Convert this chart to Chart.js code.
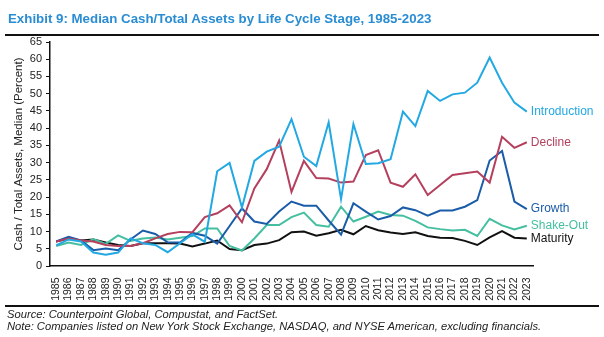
<!DOCTYPE html>
<html>
<head>
<meta charset="utf-8">
<script src="https://cdn.jsdelivr.net/npm/chart.js@4.4.0/dist/chart.umd.min.js"></script>
<style>
    body { margin: 0; background: #fff; font-family: "Liberation Sans", Arial, sans-serif; }
    #wrap { position: relative; width: 604px; height: 337px; overflow: hidden; }
    #grafico { position: absolute; left: 0; top: 0; }
    .titulo { position: absolute; left: 8px; top: 11px; font-size: 13.3px; font-weight: bold; color: #2a8dd3; line-height: 16px; white-space: nowrap; }
    .regua { position: absolute; left: 5px; width: 594px; height: 1.5px; background: #111; }
    .rodape { position: absolute; left: 7px; font-size: 11.2px; font-style: italic; color: #222; line-height: 12px; white-space: nowrap; }
</style>
</head>
<body>
<div id="wrap">
    <canvas id="grafico" width="604" height="337"></canvas>
    <div class="titulo">Exhibit 9: Median Cash/Total Assets by Life Cycle Stage, 1985-2023</div>
    <div class="regua" style="top:34px"></div>
    <div class="regua" style="top:305px"></div>
    <div class="rodape" style="top:308px">Source: Counterpoint Global, Compustat, and FactSet.</div>
    <div class="rodape" style="top:320px">Note: Companies listed on New York Stock Exchange, NASDAQ, and NYSE American, excluding financials.</div>
</div>
<script>
// Years on the x axis
var anos = [];
for (var a = 1985; a <= 2023; a++) anos.push(String(a));

// Y axis ticks
var ticksY = [0, 5, 10, 15, 20, 25, 30, 35, 40, 45, 50, 55, 60, 65];

// Median cash / total assets (percent)
var introducao = [6.0, 7.7, 7.1, 3.9, 3.3, 3.9, 8.0, 6.6, 6.1, 4.0, 6.6, 9.2, 7.0, 27.5, 29.9, 17.0, 30.5, 33.2, 34.6, 42.6,
    31.7, 29.0, 41.7, 19.4, 41.2, 29.6, 29.8, 31.0, 44.8, 40.6, 50.8, 47.9, 49.8, 50.3, 53.2, 60.5, 53.2, 47.4, 44.8];
var declinio = [7.1, 8.0, 7.4, 7.1, 6.1, 5.8, 5.8, 6.6, 8.0, 9.3, 9.9, 9.8, 14.2, 15.3, 17.6, 12.7, 22.5, 28.1, 36.4, 21.5,
    30.5, 25.5, 25.4, 24.2, 24.5, 32.2, 33.6, 24.2, 23.0, 26.6, 20.6, 23.5, 26.4, 26.9, 27.4, 24.2, 37.5, 34.3, 35.9];
var crescimento = [7.1, 8.5, 7.4, 4.6, 5.1, 4.6, 7.7, 10.3, 9.3, 6.9, 6.8, 9.6, 8.8, 6.5, 11.6, 16.7, 12.9, 12.2, 15.8, 18.7,
    17.5, 17.5, 13.2, 9.1, 18.2, 15.8, 13.5, 14.5, 17.0, 16.2, 14.6, 16.1, 16.1, 17.2, 19.1, 30.6, 33.4, 18.7, 16.5];
var shakeOut = [5.8, 6.8, 6.1, 7.8, 6.4, 8.9, 7.3, 8.0, 8.3, 7.7, 8.2, 8.7, 10.9, 10.9, 5.8, 4.5, 8.0, 11.9, 11.9, 14.2,
    15.5, 11.9, 11.4, 17.2, 12.9, 14.3, 15.8, 14.8, 14.6, 13.1, 11.2, 10.7, 10.3, 10.5, 8.7, 13.7, 11.8, 10.6, 11.7];
var maturidade = [7.1, 8.0, 7.4, 7.7, 6.8, 6.1, 5.8, 6.6, 6.6, 6.6, 6.5, 5.7, 6.5, 7.4, 4.9, 4.6, 6.1, 6.5, 7.5, 9.8,
    10.0, 8.8, 9.5, 10.5, 9.2, 11.6, 10.4, 9.7, 9.3, 9.8, 8.7, 8.2, 8.1, 7.3, 6.1, 8.3, 10.1, 8.2, 8.0];

var fonte = "'Liberation Sans', Arial, sans-serif";

function serie(nome, dados, cor) {
    return {
        label: nome,
        data: dados,
        borderColor: cor,
        backgroundColor: cor,
        borderWidth: 2,
        pointRadius: 0,
        tension: 0,
        fill: false
    };
}

// Labels at the end of each line
var rotulosFinais = {
    id: 'rotulosFinais',
    afterDatasetsDraw: function (chart) {
        var ctx = chart.ctx;
        ctx.save();
        ctx.font = '12px ' + fonte;
        ctx.textAlign = 'left';
        ctx.textBaseline = 'middle';
        chart.data.datasets.forEach(function (ds, i) {
            var pts = chart.getDatasetMeta(i).data;
            var ultimo = pts[pts.length - 1];
            ctx.fillStyle = ds.borderColor;
            ctx.fillText(ds.label, ultimo.x + 4, ultimo.y);
        });
        ctx.restore();
    }
};

new Chart(document.getElementById('grafico').getContext('2d'), {
    type: 'line',
    data: {
        labels: anos,
        datasets: [
            serie('Introduction', introducao, '#22a8e2'),
            serie('Decline', declinio, '#b4405e'),
            serie('Growth', crescimento, '#1a5ca8'),
            serie('Shake-Out', shakeOut, '#45bfa0'),
            serie('Maturity', maturidade, '#111111')
        ]
    },
    options: {
        responsive: false,
        animation: false,
        layout: { padding: { left: 0, top: 42, right: 71, bottom: 34 } },
        plugins: { legend: { display: false }, tooltip: { enabled: false } },
        scales: {
            x: {
                offset: true,
                afterFit: function (scale) { scale.height = 37; },
                grid: { display: false, drawTicks: false },
                border: { display: true, color: '#111', width: 1.5 },
                ticks: {
                    autoSkip: false,
                    minRotation: 90,
                    maxRotation: 90,
                    padding: 11.5,
                    color: '#222',
                    font: { family: fonte, size: 10.5 }
                }
            },
            y: {
                min: 0,
                max: 65,
                afterFit: function (scale) { scale.width = 50; },
                afterBuildTicks: function (scale) {
                    scale.ticks = ticksY.map(function (v) { return { value: v }; });
                },
                grid: { drawOnChartArea: false, drawTicks: true, tickLength: 4, color: '#111' },
                border: { display: true, color: '#111', width: 1.5 },
                ticks: { padding: 4, color: '#222', font: { family: fonte, size: 11 } },
                title: {
                    display: true,
                    text: 'Cash / Total Assets, Median (Percent)',
                    color: '#222',
                    padding: { top: 11.5, bottom: 0 },
                    font: { family: fonte, size: 11.5 }
                }
            }
        }
    },
    plugins: [rotulosFinais]
});
</script>
</body>
</html>
